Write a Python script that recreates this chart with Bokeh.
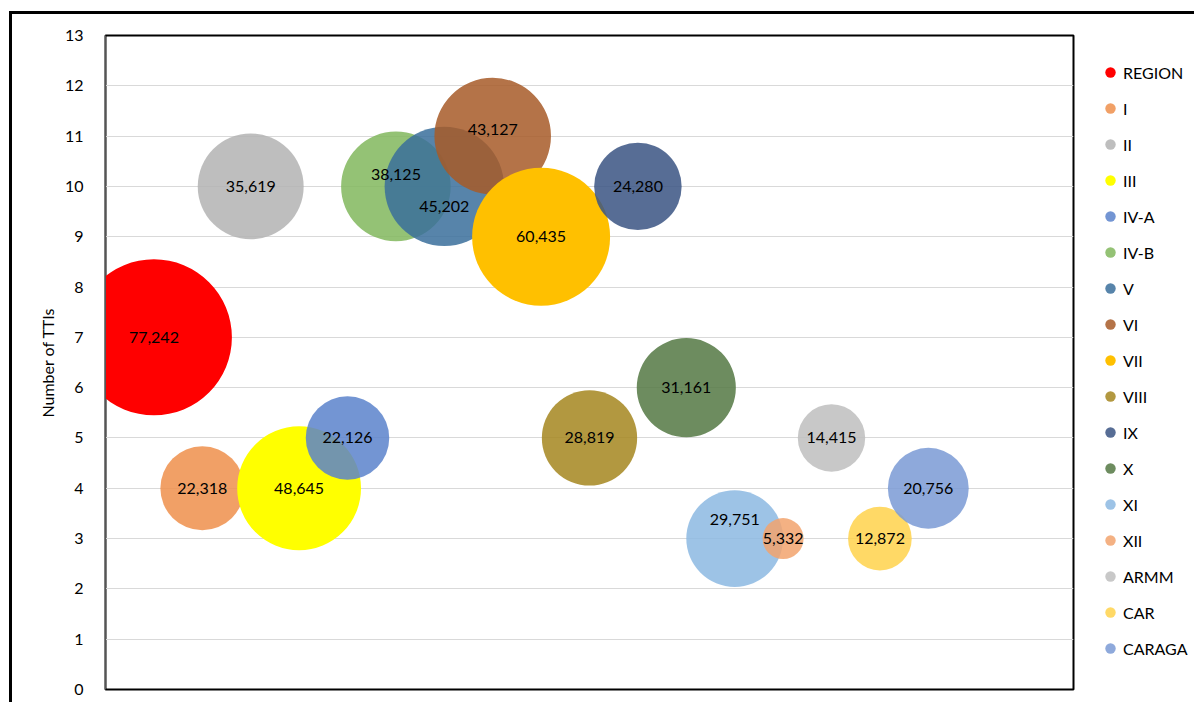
import math
from bokeh.plotting import figure
from bokeh.layouts import row
from bokeh.models import ColumnDataSource, Legend, LegendItem, FixedTicker, Range1d
from bokeh.core.properties import value
from bokeh.embed import file_html
from bokeh.resources import INLINE

# ---- data ----
regions = ["REGION", "I", "II", "III", "IV-A", "IV-B", "V", "VI", "VII", "VIII",
           "IX", "X", "XI", "XII", "ARMM", "CAR", "CARAGA"]
x_pos = list(range(1, 18))
num_ttis = [7, 4, 10, 4, 5, 10, 10, 11, 9, 5, 10, 6, 3, 3, 5, 3, 4]
enrollees = [77242, 22318, 35619, 48645, 22126, 38125, 45202, 43127, 60435,
             28819, 24280, 31161, 29751, 5332, 14415, 12872, 20756]
y_ticks = list(range(0, 14))

# ---- styles ----
colors = ["#FF0000", "#EE8F4B", "#B3B3B3", "#FFFF00", "#5A82CB", "#81B75D",
          "#3A6E9B", "#A75A28", "#FFC000", "#A4861E", "#3A5483", "#547843",
          "#8CB8E2", "#F2A36D", "#BEBEBE", "#FFD24B", "#7A9AD5"]
alphas = [1.0, 0.85, 0.85, 1.0, 0.85, 0.85, 0.85, 0.85, 1.0, 0.85,
          0.85, 0.85, 0.85, 0.85, 0.85, 0.85, 0.85]
label_dy = [0, 0, 0, 0, 0, -12, 20, -7, 0, 0, 0, 0, -19, 0, 0, 0, 0]
MAX_DIAMETER = 156.0
sizes = [MAX_DIAMETER * math.sqrt(v / max(enrollees)) for v in enrollees]
labels = [f"{v:,}" for v in enrollees]

src = ColumnDataSource(dict(x=x_pos, y=num_ttis, size=sizes, color=colors,
                            alpha=alphas, region=regions, label=labels, dy=label_dy))

FONT = "Lato"
H = 688

# ---- main chart ----
p = figure(width=1064, height=H, output_backend="svg", toolbar_location=None,
           x_range=Range1d(0, 20), y_range=Range1d(0, 13),
           min_border_left=93, min_border_right=3, min_border_top=21,
           min_border_bottom=13)

p.outline_line_color = "black"
p.outline_line_width = 2
p.xaxis.visible = False
p.xgrid.grid_line_color = None
p.ygrid.grid_line_color = "#d9d9d9"
p.ygrid.grid_line_width = 1

p.yaxis.ticker = FixedTicker(ticks=y_ticks)
p.yaxis.major_tick_line_color = None
p.yaxis.minor_tick_line_color = None
p.yaxis.axis_line_color = "#555555"
p.yaxis.major_label_text_font = FONT
p.yaxis.major_label_text_font_size = "16px"
p.yaxis.major_label_text_color = "#000000"
p.yaxis.major_label_standoff = 16
p.yaxis.axis_label = "Number of TTIs"
p.yaxis.axis_label_text_font = FONT
p.yaxis.axis_label_text_font_size = "16px"
p.yaxis.axis_label_text_font_style = "normal"
p.yaxis.axis_label_text_color = "#000000"
p.yaxis.axis_label_standoff = 5

p.scatter("x", "y", size="size", source=src, fill_color="color",
          fill_alpha="alpha", line_color=None, marker="circle")

p.text("x", "y", text="label", source=src, y_offset="dy",
       text_align="center", text_baseline="middle",
       text_font=value(FONT), text_font_size="16px", text_color="#000000")

# ---- legend panel (separate figure so the legend is not clipped) ----
pl = figure(width=118, height=H, output_backend="svg", toolbar_location=None,
            x_range=Range1d(1000, 1001), y_range=Range1d(1000, 1001),
            x_axis_type=None, y_axis_type=None,
            min_border_left=0, min_border_right=0, min_border_top=0,
            min_border_bottom=0)
pl.outline_line_color = None
pl.grid.visible = False
lr = pl.scatter("x", "y", size="size", source=src, fill_color="color",
                fill_alpha="alpha", line_color=None, marker="circle")

items = [LegendItem(label=reg, renderers=[lr], index=i) for i, reg in enumerate(regions)]
legend = Legend(items=items, location=(21, 28), orientation="vertical",
                glyph_width=26, glyph_height=26, label_height=26, spacing=10,
                label_standoff=0, padding=0, margin=0,
                label_text_font=FONT, label_text_font_size="16px",
                label_text_color="#000000", border_line_color=None,
                background_fill_alpha=0)
pl.add_layout(legend, "center")

layout = row(p, pl)
layout.styles = {"border-top": "3px solid black", "border-left": "3px solid black",
                 "margin-top": "11px", "margin-left": "9px"}

open("out.html", "w").write(file_html(layout, INLINE))
